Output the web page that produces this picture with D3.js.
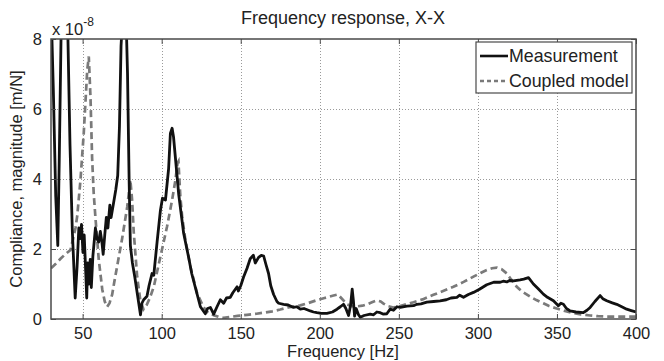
<!DOCTYPE html>
<html>
<head>
<meta charset="utf-8">
<script src="https://cdn.jsdelivr.net/npm/d3@7"></script>
<style>
  body { margin: 0; background: #fff; }
  svg { display: block; }
  text { font-family: "Liberation Sans", Arial, sans-serif; fill: #222; }
</style>
</head>
<body>
<svg id="chart" width="664" height="361"></svg>
<script>
// ---- data (values in units of 1e-8 m/N) ----
const title = "Frequency response, X-X";
const xLabel = "Frequency [Hz]";
const yLabel = "Compliance, magnitude [m/N]";
const seriesNames = ["Measurement", "Coupled model"];
const xTicks = [50, 100, 150, 200, 250, 300, 350, 400];
const yTicks = [0, 2, 4, 6, 8];

const measFreq = [30,31.5,33,34.3,35.2,36.5,38.5,40.5,42,43.5,45.3,46.5,47.6,48.5,49.3,50.2,51,52,52.6,53.2,54,54.8,55.5,56.5,57.5,58.1,59,60.2,61.2,62.2,63,64,65,66,67.2,68,69.7,71,72.2,73.3,74.3,75.5,76.5,77.5,78.4,79.4,80.2,81.5,83,85,86.6,87.5,88.6,90.7,92,93.9,95,97.1,99.2,100.5,102.4,104.4,105.5,106.6,107.5,108.7,110.8,113.9,115.5,117.1,119,121.3,124.5,127.6,129,130.8,132.9,135,137.1,139.2,141,143.4,145,147.7,148.5,150,151.8,154,156,158,159.2,161.3,163,164.5,166,167.6,169,170.8,172.9,174,177.1,180,183.4,185.5,187.7,190,194,196,198.2,201,204.5,208,210.9,213,215,216.5,218.2,219.5,220.5,221.3,222,223,224.5,225.6,228,231.9,234,236.1,238.2,240,242.4,244.5,246.6,248.8,250.9,255.1,259.3,261.4,264,267.7,272,276.1,280,283,286.7,288.5,290.9,294,297.2,301,305.6,310,314.1,316,318.3,320,322.5,326.7,329,332,335.1,338,341.4,344,347.8,350.9,352.5,354.1,356,358.3,362,366.7,369,371,374,377.3,379,381.5,385,387.8,391,394.1,397,400];
const measVal = [9.0,6.5,3.5,2.1,4.5,8.5,10,8.5,5,2.5,0.6,1.5,2.6,2.3,2.7,1.9,2.4,1.3,0.6,1.6,1.0,1.7,0.9,1.8,2.3,2.6,2.3,2.2,2.5,2.2,1.85,2.4,2.9,2.6,3.25,2.9,3.35,3.7,4.1,5.5,7.8,8.8,9.0,8.6,7.0,4.0,2.1,1.6,1.2,0.6,0.12,0.45,0.55,0.65,0.95,1.3,1.25,2.2,3.1,3.45,3.4,4.3,5.3,5.45,5.2,4.6,3.55,2.45,2.1,1.75,1.3,0.9,0.35,0.15,0.3,0.33,0.14,0.35,0.55,0.45,0.6,0.62,0.75,0.92,0.8,0.95,1.2,1.45,1.72,1.82,1.6,1.76,1.82,1.8,1.55,1.3,0.95,0.7,0.5,0.45,0.42,0.4,0.33,0.35,0.28,0.3,0.23,0.2,0.18,0.16,0.16,0.2,0.28,0.35,0.42,0.3,0.1,0.4,0.85,0.5,0.08,0.3,0.12,0.05,0.1,0.14,0.12,0.2,0.18,0.14,0.15,0.28,0.25,0.35,0.33,0.37,0.38,0.42,0.43,0.48,0.5,0.52,0.55,0.6,0.62,0.68,0.62,0.7,0.76,0.85,0.98,1.05,1.05,1.08,1.06,1.1,1.09,1.12,1.14,1.18,1.0,0.87,0.71,0.62,0.52,0.38,0.45,0.42,0.3,0.23,0.2,0.18,0.25,0.33,0.5,0.67,0.58,0.52,0.46,0.42,0.35,0.28,0.24,0.2];

const modelFreq = [30,33,36,39,42.3,44,45.5,46.6,48.6,50.7,52.9,53.9,55,56,57,58.1,60.2,62.4,64,65.5,67,68.7,70,71.8,75,78.2,80.2,81.3,82.3,84.5,86.6,88.5,90.5,92.5,95,99.2,103.4,106.6,108.7,110,110.6,111.8,113,115,118.2,122.4,126.6,129,132.9,136,139.2,143.4,148,154,160,164.5,170,175,180,187.7,193,198.2,203,208.7,211.5,214,217.2,220,223.5,227,230,233,236.1,238.5,240.3,243,246.6,250,253,259.3,265,271.9,278,284.5,291,297.2,302,305.6,309,312,315,318.3,321,324.6,328,333,337,341.4,345,349.9,355,360.4,365,371,376,381.5,390,400];
const modelVal = [1.45,1.58,1.72,1.85,1.97,2.3,2.6,2.95,3.95,5.3,7.1,7.5,6.3,4.6,3.6,2.9,1.7,0.85,0.5,0.35,0.45,0.7,1.05,1.5,2.3,3.2,3.97,3.4,2.5,1.2,0.5,0.28,0.4,0.6,0.92,1.78,2.64,3.4,3.97,4.45,4.5,3.5,2.9,2.26,1.49,0.73,0.33,0.2,0.11,0.06,0.03,0.06,0.09,0.12,0.15,0.18,0.22,0.27,0.33,0.39,0.46,0.54,0.6,0.67,0.7,0.58,0.42,0.37,0.36,0.38,0.42,0.48,0.53,0.5,0.44,0.37,0.33,0.36,0.4,0.48,0.56,0.69,0.8,0.92,1.06,1.21,1.32,1.4,1.45,1.47,1.42,1.3,1.13,0.92,0.78,0.64,0.54,0.45,0.37,0.3,0.23,0.17,0.13,0.1,0.08,0.07,0.07,0.07];

// ---- layout ----
const svg = d3.select("#chart");
const L = 51, R = 636, T = 39, B = 319;
const x = d3.scaleLinear().domain([30, 400]).range([L, R]);
const y = d3.scaleLinear().domain([0, 8]).range([B, T]);
const txt = "#222", axisCol = "#4a4a4a";

svg.append("defs").append("clipPath").attr("id", "plotclip")
  .append("rect").attr("x", L).attr("y", T).attr("width", R - L).attr("height", B - T);

// grid
const grid = svg.append("g").attr("stroke", "#9a9a9a").attr("stroke-width", 1).attr("stroke-dasharray", "1,2");
grid.selectAll("line.gx").data(xTicks.filter(d => d < 400)).enter().append("line")
  .attr("x1", d => Math.round(x(d)) + 0.5).attr("x2", d => Math.round(x(d)) + 0.5)
  .attr("y1", T).attr("y2", B);
grid.selectAll("line.gy").data(yTicks.filter(d => d > 0 && d < 8)).enter().append("line")
  .attr("y1", d => Math.round(y(d)) + 0.5).attr("y2", d => Math.round(y(d)) + 0.5)
  .attr("x1", L).attr("x2", R);

// lines
const plot = svg.append("g").attr("clip-path", "url(#plotclip)");
const line = d3.line().x(d => x(d[0])).y(d => y(d[1]));
const modelData = modelFreq.map((f, i) => [f, modelVal[i]]);
const measData = measFreq.map((f, i) => [f, measVal[i]]);
plot.append("path").datum(modelData).attr("d", line)
  .attr("fill", "none").attr("stroke", "#7a7a7a").attr("stroke-width", 2.7)
  .attr("stroke-dasharray", "7,4");
plot.append("path").datum(measData).attr("d", line)
  .attr("fill", "none").attr("stroke", "#111").attr("stroke-width", 2.8)
  .attr("stroke-linejoin", "round");

// axes (inward ticks)
const fs = 16.5;
const xAxis = svg.append("g").attr("transform", `translate(0,${B})`)
  .call(d3.axisBottom(x).tickValues(xTicks).tickSize(-5).tickPadding(8).tickFormat(d3.format("d")));
const xTop = svg.append("g").attr("transform", `translate(0,${T})`)
  .call(d3.axisTop(x).tickValues(xTicks).tickSize(-5).tickFormat(""));
const yAxis = svg.append("g").attr("transform", `translate(${L},0)`)
  .call(d3.axisLeft(y).tickValues(yTicks).tickSize(-5).tickPadding(9).tickFormat(d3.format("d")));
const yRight = svg.append("g").attr("transform", `translate(${R},0)`)
  .call(d3.axisRight(y).tickValues(yTicks).tickSize(-5).tickFormat(""));
[xAxis, xTop, yAxis, yRight].forEach(g => {
  g.select(".domain").remove();
  g.selectAll(".tick line").attr("stroke", axisCol).attr("stroke-width", 1);
  g.selectAll("text").attr("font-size", fs).attr("fill", txt)
    .attr("font-family", "'Liberation Sans', Arial, sans-serif");
});
svg.append("rect").attr("x", L).attr("y", T).attr("width", R - L).attr("height", B - T)
  .attr("fill", "none").attr("stroke", axisCol).attr("stroke-width", 1.5);

// exponent label
const ex = svg.append("text").attr("x", L + 1).attr("y", 35).attr("font-size", fs);
ex.append("tspan").text("x 10");
ex.append("tspan").attr("dy", -9).attr("font-size", 12).text("-8");

// title and labels
svg.append("text").attr("x", 343).attr("y", 24).attr("text-anchor", "middle")
  .attr("font-size", 18).text(title);
svg.append("text").attr("x", 343).attr("y", 356.5).attr("text-anchor", "middle")
  .attr("font-size", fs).text(xLabel);
svg.append("text").attr("transform", `translate(22,${(T + B) / 2}) rotate(-90)`)
  .attr("text-anchor", "middle").attr("font-size", fs).text(yLabel);

// legend
const lg = svg.append("g");
lg.append("rect").attr("x", 476).attr("y", 42).attr("width", 156).attr("height", 51)
  .attr("fill", "#fff").attr("stroke", axisCol).attr("stroke-width", 1.2);
const styles = [{ c: "#111", dash: null }, { c: "#7a7a7a", dash: "4,3" }];
seriesNames.forEach((name, i) => {
  const yy = 56 + i * 25;
  lg.append("line").attr("x1", 480).attr("x2", 508).attr("y1", yy).attr("y2", yy)
    .attr("stroke", styles[i].c).attr("stroke-width", 2.6)
    .attr("stroke-dasharray", styles[i].dash);
  lg.append("text").attr("x", 509).attr("y", yy + 6).attr("font-size", 17.8).text(name);
});
</script>
</body>
</html>
